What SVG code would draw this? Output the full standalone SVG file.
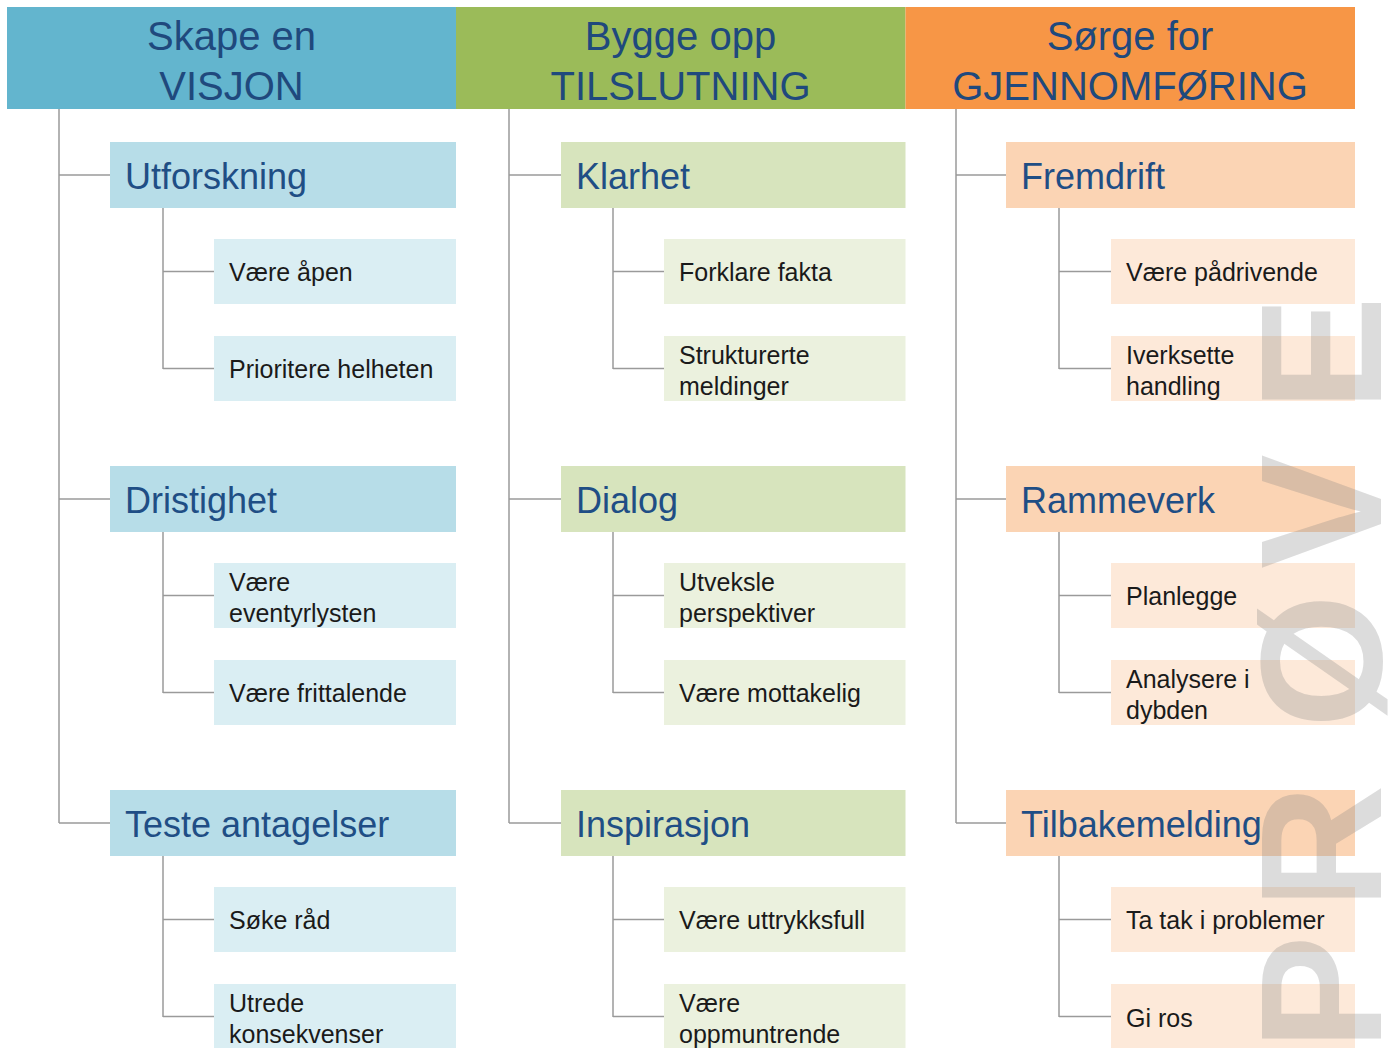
<svg xmlns="http://www.w3.org/2000/svg" width="1394" height="1048" viewBox="0 0 1394 1048">
<style>
text{font-family:"Liberation Sans",Arial,sans-serif}
.hd{font-size:40px;fill:#1F497D;text-anchor:middle}
.l1{font-size:36px;fill:#1F4E85}
.l2{font-size:25px;fill:#1a1a1a}
.b1a{fill:#B7DDE8}.b2a{fill:#DAEEF3}
.b1b{fill:#D7E4BD}.b2b{fill:#EBF1DE}
.b1c{fill:#FBD4B4}.b2c{fill:#FDE9D9}
.cn{fill:none;stroke:#9a9a9a;stroke-width:1.5}
.wm{font-size:172px;font-weight:bold;fill:#808080;fill-opacity:0.28}
</style>
<rect width="1394" height="1048" fill="#ffffff"/>
<g id="headers">
<g id="h1"><rect x="7" y="7" width="449" height="102" fill="#63B5CE"/><text class="hd" x="231.5" y="50">Skape en</text><text class="hd" x="231.5" y="100">VISJON</text></g>
<g id="h2"><rect x="456" y="7" width="449.5" height="102" fill="#9BBB59"/><text class="hd" x="680.5" y="50">Bygge opp</text><text class="hd" x="680.5" y="100">TILSLUTNING</text></g>
<g id="h3"><rect x="905.5" y="7" width="449.5" height="102" fill="#F79646"/><text class="hd" x="1130" y="50">Sørge for</text><text class="hd" x="1130" y="100">GJENNOMFØRING</text></g>
</g>
<g id="connectors" class="cn">
<path d="M59,109V823M59,175H110M59,499H110M59,823H110"/>
<path d="M163,208V369M163,271.5H214M163,368.5H214"/>
<path d="M163,532V693M163,595.5H214M163,692.5H214"/>
<path d="M163,856V1017M163,919.5H214M163,1016.5H214"/>
<path d="M509,109V823M509,175H561M509,499H561M509,823H561"/>
<path d="M613,208V369M613,271.5H664M613,368.5H664"/>
<path d="M613,532V693M613,595.5H664M613,692.5H664"/>
<path d="M613,856V1017M613,919.5H664M613,1016.5H664"/>
<path d="M956,109V823M956,175H1006M956,499H1006M956,823H1006"/>
<path d="M1059,208V369M1059,271.5H1111M1059,368.5H1111"/>
<path d="M1059,532V693M1059,595.5H1111M1059,692.5H1111"/>
<path d="M1059,856V1017M1059,919.5H1111M1059,1016.5H1111"/>
</g>
<g id="col1">
<g id="n-utforskning"><rect class="b1a" x="110" y="142" width="346" height="66"/><text class="l1" x="125" y="189">Utforskning</text></g>
<g id="n-vaere-apen"><rect class="b2a" x="214" y="239" width="242" height="65"/><text class="l2" x="229" y="281">Være åpen</text></g>
<g id="n-prioritere"><rect class="b2a" x="214" y="336" width="242" height="65"/><text class="l2" x="229" y="378">Prioritere helheten</text></g>
<g id="n-dristighet"><rect class="b1a" x="110" y="466" width="346" height="66"/><text class="l1" x="125" y="513">Dristighet</text></g>
<g id="n-eventyrlysten"><rect class="b2a" x="214" y="563" width="242" height="65"/><text class="l2" x="229" y="591">Være</text><text class="l2" x="229" y="622">eventyrlysten</text></g>
<g id="n-frittalende"><rect class="b2a" x="214" y="660" width="242" height="65"/><text class="l2" x="229" y="702">Være frittalende</text></g>
<g id="n-teste"><rect class="b1a" x="110" y="790" width="346" height="66"/><text class="l1" x="125" y="837">Teste antagelser</text></g>
<g id="n-soke-rad"><rect class="b2a" x="214" y="887" width="242" height="65"/><text class="l2" x="229" y="929">Søke råd</text></g>
<g id="n-utrede"><rect class="b2a" x="214" y="984" width="242" height="65"/><text class="l2" x="229" y="1012">Utrede</text><text class="l2" x="229" y="1043">konsekvenser</text></g>
</g>
<g id="col2">
<g id="n-klarhet"><rect class="b1b" x="561" y="142" width="344.5" height="66"/><text class="l1" x="576" y="189">Klarhet</text></g>
<g id="n-forklare"><rect class="b2b" x="664" y="239" width="241.5" height="65"/><text class="l2" x="679" y="281">Forklare fakta</text></g>
<g id="n-strukturerte"><rect class="b2b" x="664" y="336" width="241.5" height="65"/><text class="l2" x="679" y="364">Strukturerte</text><text class="l2" x="679" y="395">meldinger</text></g>
<g id="n-dialog"><rect class="b1b" x="561" y="466" width="344.5" height="66"/><text class="l1" x="576" y="513">Dialog</text></g>
<g id="n-utveksle"><rect class="b2b" x="664" y="563" width="241.5" height="65"/><text class="l2" x="679" y="591">Utveksle</text><text class="l2" x="679" y="622">perspektiver</text></g>
<g id="n-mottakelig"><rect class="b2b" x="664" y="660" width="241.5" height="65"/><text class="l2" x="679" y="702">Være mottakelig</text></g>
<g id="n-inspirasjon"><rect class="b1b" x="561" y="790" width="344.5" height="66"/><text class="l1" x="576" y="837">Inspirasjon</text></g>
<g id="n-uttrykksfull"><rect class="b2b" x="664" y="887" width="241.5" height="65"/><text class="l2" x="679" y="929">Være uttrykksfull</text></g>
<g id="n-oppmuntrende"><rect class="b2b" x="664" y="984" width="241.5" height="65"/><text class="l2" x="679" y="1012">Være</text><text class="l2" x="679" y="1043">oppmuntrende</text></g>
</g>
<g id="col3">
<g id="n-fremdrift"><rect class="b1c" x="1006" y="142" width="349" height="66"/><text class="l1" x="1021" y="189">Fremdrift</text></g>
<g id="n-padrivende"><rect class="b2c" x="1111" y="239" width="244" height="65"/><text class="l2" x="1126" y="281">Være pådrivende</text></g>
<g id="n-iverksette"><rect class="b2c" x="1111" y="336" width="244" height="65"/><text class="l2" x="1126" y="364">Iverksette</text><text class="l2" x="1126" y="395">handling</text></g>
<g id="n-rammeverk"><rect class="b1c" x="1006" y="466" width="349" height="66"/><text class="l1" x="1021" y="513">Rammeverk</text></g>
<g id="n-planlegge"><rect class="b2c" x="1111" y="563" width="244" height="65"/><text class="l2" x="1126" y="605">Planlegge</text></g>
<g id="n-analysere"><rect class="b2c" x="1111" y="660" width="244" height="65"/><text class="l2" x="1126" y="688">Analysere i</text><text class="l2" x="1126" y="719">dybden</text></g>
<g id="n-tilbakemelding"><rect class="b1c" x="1006" y="790" width="349" height="66"/><text class="l1" x="1021" y="837">Tilbakemelding</text></g>
<g id="n-ta-tak"><rect class="b2c" x="1111" y="887" width="244" height="65"/><text class="l2" x="1126" y="929">Ta tak i problemer</text></g>
<g id="n-gi-ros"><rect class="b2c" x="1111" y="984" width="244" height="65"/><text class="l2" x="1126" y="1027">Gi ros</text></g>
</g>
<g id="watermark"><text class="wm" transform="translate(1381,1048) rotate(-90)" x="-2 139 320 479 637">PRØVE</text></g>
</svg>
